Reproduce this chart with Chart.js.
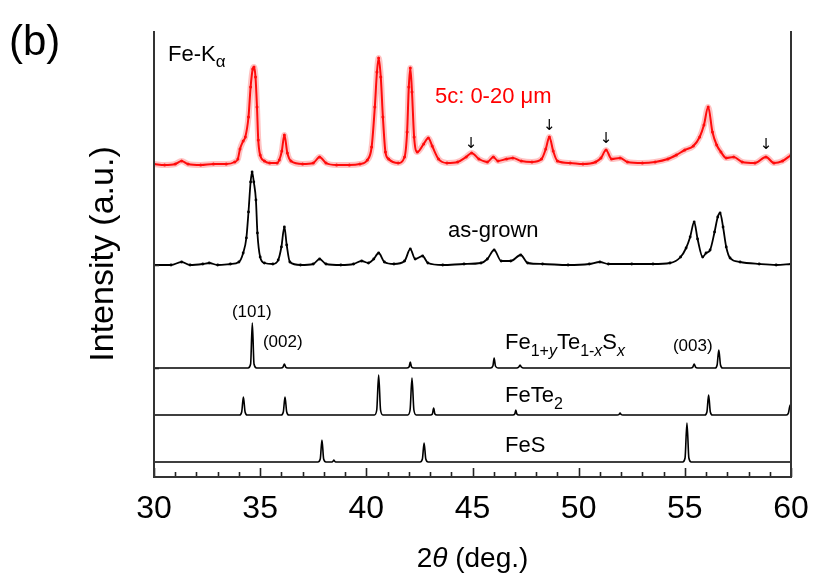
<!DOCTYPE html>
<html>
<head>
<meta charset="utf-8">
<script src="https://cdn.jsdelivr.net/npm/chart.js@4.4.0/dist/chart.umd.min.js"></script>
<style>
  html, body { margin: 0; padding: 0; background: #fff; }
</style>
</head>
<body>
<canvas id="xrdChart" width="830" height="581"></canvas>
<script>
// Patrones de difracción: [2theta, intensidad (u.a., desplazada)]
const xMin = 30, xMax = 60;
const yMin = 0, yMax = 446;
const xLabelStep = 5;
const yTicks = [109, 212];

// muestra 5c: 0-20 um (rojo)
const red5c = [
  [30.0,313],[30.5,312],[31.0,313],[31.3,316],[31.6,313],[32.2,312],[32.8,313],[33.4,313],
  [33.8,315],[33.95,318],[34.05,328],[34.2,336],[34.3,340],[34.45,360],[34.55,390],[34.65,408],
  [34.71,410],[34.78,400],[34.85,370],[34.91,337],[35.0,322],[35.2,316],[35.45,314],[35.8,314],
  [35.9,317],[36.02,326],[36.14,342],[36.28,324],[36.45,316],[37.0,313],[37.5,314],[37.8,320],
  [38.1,314],[38.6,312],[39.2,312],[39.7,313],[40.05,317],[40.25,330],[40.4,370],[40.5,405],
  [40.58,419],[40.68,400],[40.78,360],[40.9,325],[41.05,318],[41.5,314],[41.8,320],[41.92,345],
  [42.0,390],[42.07,409],[42.15,385],[42.25,340],[42.4,325],[42.7,333],[42.92,339],[43.1,331],
  [43.4,318],[43.8,314],[44.3,315],[44.7,320],[44.96,324],[45.3,318],[45.7,315],[45.98,320],
  [46.2,316],[46.6,318],[46.9,319],[47.3,316],[47.8,315],[48.25,318],[48.45,328],[48.62,340],
  [48.8,326],[49.0,316],[49.6,314],[50.2,313],[50.8,315],[51.05,319],[51.29,327],[51.55,318],
  [51.95,319],[52.3,315],[53.0,314],[53.6,315],[54.2,318],[54.6,322],[55.0,327],[55.4,331],
  [55.7,340],[55.9,352],[56.1,370],[56.3,345],[56.5,332],[56.7,325],[56.95,319],[57.3,320],
  [57.7,315],[58.3,314],[58.82,320],[59.2,314],[59.6,316],[60.0,322]
];

// as-grown (negro)
const asGrown = [
  [30.0,212],[30.8,212],[31.3,215],[31.7,212],[32.3,213],[32.6,214],[33.0,212],[33.6,213],
  [34.0,215],[34.2,224],[34.35,239],[34.45,265],[34.55,295],[34.62,305],[34.7,295],[34.8,277],
  [34.87,244],[35.0,220],[35.2,214],[35.6,213],[35.85,217],[36.0,230],[36.14,250],[36.25,232],
  [36.4,215],[36.9,212],[37.5,213],[37.8,218],[38.1,213],[38.8,212],[39.4,213],[39.78,216],
  [40.1,214],[40.35,218],[40.58,224],[40.85,215],[41.3,213],[41.8,216],[42.07,228],[42.3,218],
  [42.65,221],[42.9,214],[43.6,212],[44.6,213],[45.4,214],[45.7,218],[46.02,227],[46.35,216],
  [46.8,216],[47.27,222],[47.6,214],[48.3,213],[49.5,212],[50.5,213],[51.0,215],[51.4,213],
  [52.5,213],[53.5,213],[54.3,214],[54.8,220],[55.06,229],[55.25,240],[55.44,255],[55.6,238],
  [55.84,220],[56.0,224],[56.19,227],[56.4,245],[56.55,260],[56.66,264],[56.8,250],[56.95,230],
  [57.13,219],[57.6,215],[58.5,213],[59.3,212],[60.0,213]
];

// referencia Fe1+yTe1-xSx
const refFeTeS = [
  [30,109],[34.43,109],[34.55,113],[34.63,154],[34.71,113],[34.83,109],
  [35.98,109],[36.08,110],[36.14,113],[36.2,110],[36.3,109],
  [41.9,109],[42.01,110],[42.07,115],[42.13,110],[42.24,109],
  [45.85,109],[45.96,111],[46.02,119],[46.08,111],[46.2,109],
  [47.08,109],[47.18,110],[47.24,112],[47.3,110],[47.4,109],
  [55.28,109],[55.38,110],[55.44,113],[55.5,110],[55.6,109],
  [56.43,109],[56.52,112],[56.6,127],[56.68,112],[56.78,109],
  [60,109]
];

// referencia FeTe2
const refFeTe2 = [
  [30,62],[34.03,62],[34.13,65],[34.21,80],[34.29,65],[34.39,62],
  [35.99,62],[36.09,65],[36.17,80],[36.25,65],[36.35,62],
  [40.38,62],[40.49,67],[40.58,102],[40.67,67],[40.78,62],
  [41.95,62],[42.06,67],[42.15,99],[42.24,67],[42.35,62],
  [43.02,62],[43.11,63],[43.17,69],[43.23,63],[43.32,62],
  [46.9,62],[46.99,63],[47.04,67],[47.09,63],[47.18,62],
  [51.82,62],[51.9,62.5],[51.95,64],[52.0,62.5],[52.08,62],
  [55.94,62],[56.04,65],[56.12,82],[56.2,65],[56.3,62],
  [59.78,62],[59.88,64],[59.96,72],[60,70]
];

// referencia FeS
const refFeS = [
  [30,15],[37.72,15],[37.83,18],[37.91,37],[37.99,18],[38.1,15],
  [38.38,15],[38.44,16],[38.47,17],[38.5,16],[38.56,15],
  [42.53,15],[42.64,18],[42.72,34],[42.8,18],[42.91,15],
  [54.9,15],[55.01,19],[55.1,54],[55.19,19],[55.3,15],
  [60,15]
];

// flechas sobre picos de impureza
const arrowAt = [44.93, 48.62, 51.29, 58.82];
const arrowLevel = [333, 351, 338, 332];

// textos dentro del gráfico: [texto, tamaño, cursiva, desplazamiento vertical]
const FONT = '"Liberation Sans", Arial, Helvetica, sans-serif';
const textLabels = [
  { x: 30.66, y: 416, color: '#000', parts: [['Fe-K', 22], ['α', 17, false, 6]] },
  { x: 43.23, y: 374, color: '#ff0000', parts: [['5c: 0-20 μm', 22]] },
  { x: 43.85, y: 240, color: '#000', parts: [['as-grown', 22]] },
  { x: 33.67, y: 160, color: '#000', parts: [['(101)', 17]] },
  { x: 35.13, y: 130, color: '#000', parts: [['(002)', 17]] },
  { x: 46.53, y: 128, color: '#000', parts: [['Fe', 22], ['1+', 16, false, 7], ['y', 16, true, 7], ['Te', 22], ['1-', 16, false, 7], ['x', 16, true, 7], ['S', 22], ['x', 16, true, 7]] },
  { x: 54.44, y: 126, color: '#000', parts: [['(003)', 17]] },
  { x: 46.53, y: 75, color: '#000', parts: [['FeTe', 22], ['2', 16, false, 7]] },
  { x: 46.53, y: 25, color: '#000', parts: [['FeS', 22]] }
];

const toXY = arr => arr.map(p => ({ x: p[0], y: p[1] }));

// dibuja texto con subíndices
function partsWidth(ctx, parts) {
  let w = 0;
  parts.forEach(p => {
    ctx.font = (p[2] ? 'italic ' : '') + p[1] + 'px ' + FONT;
    w += ctx.measureText(p[0]).width;
  });
  return w;
}
function drawParts(ctx, parts, x, y, color) {
  ctx.fillStyle = color;
  ctx.textBaseline = 'alphabetic';
  ctx.textAlign = 'left';
  parts.forEach(p => {
    ctx.font = (p[2] ? 'italic ' : '') + p[1] + 'px ' + FONT;
    ctx.fillText(p[0], x, y + (p[3] || 0));
    x += ctx.measureText(p[0]).width;
  });
}

const decorPlugin = {
  id: 'decor',
  afterDraw(chart) {
    const ctx = chart.ctx;
    const xs = chart.scales.x, ys = chart.scales.y;
    const a = chart.chartArea;
    ctx.save();

    // ticks hacia dentro
    ctx.strokeStyle = '#222';
    ctx.lineWidth = 1.6;
    ctx.beginPath();
    for (let v = xMin; v <= xMax; v++) {
      const px = Math.round(xs.getPixelForValue(v)) + 0.5;
      const len = v % xLabelStep === 0 ? 9 : 5;
      ctx.moveTo(px, a.bottom);
      ctx.lineTo(px, a.bottom - len);
    }
    yTicks.forEach(v => {
      const py = Math.round(ys.getPixelForValue(v)) + 0.5;
      ctx.moveTo(a.left, py);
      ctx.lineTo(a.left + 5, py);
    });
    ctx.stroke();

    // marco: izquierda, abajo, derecha
    ctx.strokeStyle = '#333';
    ctx.lineWidth = 2;
    ctx.beginPath();
    ctx.moveTo(a.left, a.top);
    ctx.lineTo(a.left, a.bottom);
    ctx.lineTo(a.right, a.bottom);
    ctx.lineTo(a.right, a.top);
    ctx.stroke();

    // etiquetas
    textLabels.forEach(l => {
      drawParts(ctx, l.parts, xs.getPixelForValue(l.x), ys.getPixelForValue(l.y), l.color);
    });

    // flechas
    ctx.fillStyle = '#000';
    ctx.font = '15px "DejaVu Sans", sans-serif';
    ctx.textAlign = 'center';
    ctx.textBaseline = 'middle';
    arrowAt.forEach((v, i) => {
      ctx.fillText('↓', xs.getPixelForValue(v), ys.getPixelForValue(arrowLevel[i]));
    });

    // título eje x: 2θ (deg.)
    const xTitle = [['2', 28], ['θ', 28, true], [' (deg.)', 28]];
    const w = partsWidth(ctx, xTitle);
    drawParts(ctx, xTitle, (a.left + a.right) / 2 - w / 2, 567, '#000');

    // etiqueta del panel
    drawParts(ctx, [['(b)', 42]], 9, 55, '#000');

    ctx.restore();
  }
};

const ctx = document.getElementById('xrdChart').getContext('2d');
const xrdChart = new Chart(ctx, {
  type: 'line',
  data: {
    datasets: [
      {
        label: '5c halo',
        data: toXY(red5c),
        borderColor: 'rgba(255, 40, 40, 0.28)',
        borderWidth: 6,
        pointRadius: 0,
        cubicInterpolationMode: 'monotone'
      },
      {
        label: '5c: 0-20 um',
        data: toXY(red5c),
        borderColor: '#ff0000',
        backgroundColor: '#ff0000',
        borderWidth: 2,
        pointRadius: 1.5,
        pointBorderWidth: 0,
        cubicInterpolationMode: 'monotone'
      },
      {
        label: 'as-grown',
        data: toXY(asGrown),
        borderColor: '#000',
        backgroundColor: '#000',
        borderWidth: 1.8,
        pointRadius: 1.4,
        pointBorderWidth: 0,
        cubicInterpolationMode: 'monotone'
      },
      {
        label: 'Fe1+yTe1-xSx',
        data: toXY(refFeTeS),
        borderColor: '#000',
        borderWidth: 1.6,
        pointRadius: 0,
        cubicInterpolationMode: 'monotone'
      },
      {
        label: 'FeTe2',
        data: toXY(refFeTe2),
        borderColor: '#000',
        borderWidth: 1.6,
        pointRadius: 0,
        cubicInterpolationMode: 'monotone'
      },
      {
        label: 'FeS',
        data: toXY(refFeS),
        borderColor: '#000',
        borderWidth: 1.6,
        pointRadius: 0,
        cubicInterpolationMode: 'monotone'
      }
    ]
  },
  options: {
    responsive: false,
    animation: false,
    layout: { padding: { left: 0, right: 39, top: 31, bottom: 0 } },
    plugins: {
      legend: { display: false },
      tooltip: { enabled: false }
    },
    scales: {
      x: {
        type: 'linear',
        min: xMin,
        max: xMax,
        grid: { display: false, drawTicks: false },
        border: { display: false },
        ticks: {
          stepSize: 1,
          autoSkip: false,
          maxRotation: 0,
          padding: 13,
          color: '#000',
          font: { family: FONT, size: 32 },
          callback: v => (v % xLabelStep === 0 ? v : '')
        },
        afterFit: s => { s.height = 104; }
      },
      y: {
        min: yMin,
        max: yMax,
        grid: { display: false, drawTicks: false },
        border: { display: false },
        ticks: { display: false },
        title: {
          display: true,
          text: 'Intensity (a.u.)',
          color: '#000',
          font: { family: FONT, size: 34 },
          padding: { top: 83, bottom: 0 }
        },
        afterFit: s => { s.width = 154; }
      }
    }
  },
  plugins: [decorPlugin]
});
</script>
</body>
</html>
